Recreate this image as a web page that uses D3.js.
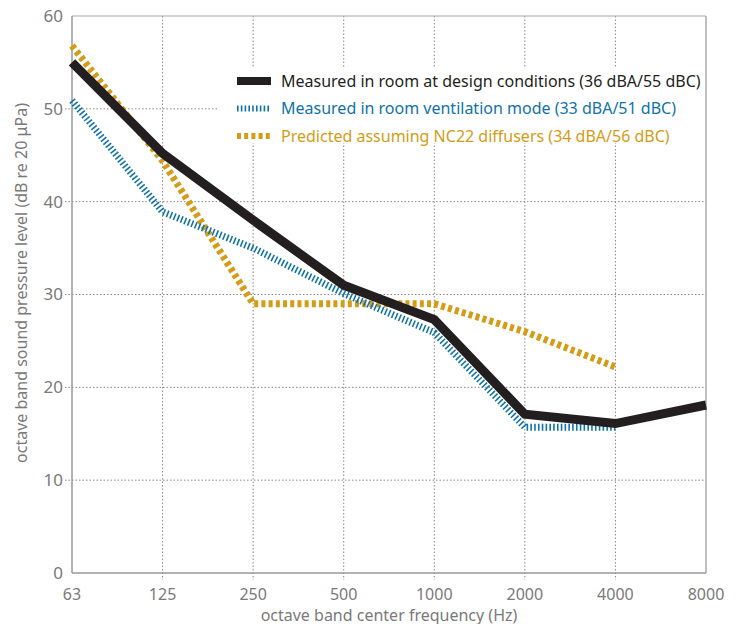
<!doctype html>
<meta charset="utf-8" />
<style>
    body { margin: 0; background: #fff; }
    text { font-family: "Noto Sans", sans-serif; }
</style>
<svg></svg>
<script src="https://cdn.jsdelivr.net/npm/d3@7"></script>
<script>
    var freqs = ['63', '125', '250', '500', '1000', '2000', '4000', '8000']
    var yTicks = [0, 10, 20, 30, 40, 50, 60]

    var designVals = [55, 45.2, 38, 31, 27.3, 17.1, 16.1, 18.1]
    var ventVals = [50.9, 38.9, 35, 30.1, 25.9, 15.7, 15.7]
    var predVals = [56.8, 44.4, 29, 29, 29, 26, 22.2]

    var seriesNames = [
        'Measured in room at design conditions (36 dBA/55 dBC)',
        'Measured in room ventilation mode (33 dBA/51 dBC)',
        'Predicted assuming NC22 diffusers (34 dBA/56 dBC)'
    ]

    var styles = [
        { color: '#231f20', width: 9, dash: null },
        { color: '#1173aa', width: 7, dash: '1.6,2.2' },
        { color: '#d49c17', width: 7, dash: '4,3.2' }
    ]

    var W = 741, H = 624
    var pLeft = 72, pRight = 706, pTop = 16, pBottom = 573

    var svg = d3.select('svg')
        .attr('width', W)
        .attr('height', H)

    var x = d3.scalePoint()
        .domain(freqs)
        .range([pLeft, pRight])

    var y = d3.scaleLinear()
        .domain([0, 60])
        .range([pBottom, pTop])

    var grid = svg.append('g')

    // horizontal dotted grid
    grid.selectAll('.hg')
        .data(yTicks.filter(d => d > 0 && d < 60))
        .enter().append('line')
        .attr('x1', pLeft - 7)
        .attr('x2', pRight)
        .attr('y1', d => y(d))
        .attr('y2', d => y(d))
        .style('stroke', '#888')
        .style('stroke-width', 1)
        .style('stroke-dasharray', '1.5,2')

    // vertical dotted grid
    grid.selectAll('.vg')
        .data(freqs.slice(1, -1))
        .enter().append('line')
        .attr('x1', d => x(d))
        .attr('x2', d => x(d))
        .attr('y1', pTop)
        .attr('y2', pBottom + 7)
        .style('stroke', '#888')
        .style('stroke-width', 1)
        .style('stroke-dasharray', '1.5,2')

    // frame
    svg.append('line')
        .attr('x1', pLeft).attr('x2', pRight).attr('y1', pTop).attr('y2', pTop)
        .style('stroke', '#aaa').style('stroke-width', 1)
    svg.append('line')
        .attr('x1', pRight).attr('x2', pRight).attr('y1', pTop).attr('y2', pBottom)
        .style('stroke', '#aaa').style('stroke-width', 1.5)
    svg.append('line')
        .attr('x1', pLeft).attr('x2', pLeft).attr('y1', pTop).attr('y2', pBottom)
        .style('stroke', '#999').style('stroke-width', 1.5)
    svg.append('line')
        .attr('x1', pLeft).attr('x2', pRight).attr('y1', pBottom).attr('y2', pBottom)
        .style('stroke', '#999').style('stroke-width', 1.5)

    // legend background hides grid
    svg.append('rect')
        .attr('x', 218)
        .attr('y', 67)
        .attr('width', pRight - 219)
        .attr('height', 76)
        .style('fill', 'white')

    // tick labels
    svg.selectAll('.yl')
        .data(yTicks)
        .enter().append('text')
        .attr('x', pLeft - 9)
        .attr('y', d => y(d))
        .attr('dy', '0.35em')
        .attr('text-anchor', 'end')
        .style('font-size', '17px')
        .style('fill', '#7a7a7a')
        .text(d => d)

    svg.selectAll('.xl')
        .data(freqs)
        .enter().append('text')
        .attr('x', d => x(d))
        .attr('y', 600)
        .attr('text-anchor', 'middle')
        .style('font-size', '16px')
        .style('fill', '#7a7a7a')
        .text(d => d)

    svg.append('text')
        .attr('x', 389)
        .attr('y', 621)
        .attr('text-anchor', 'middle')
        .style('font-size', '16px')
        .style('fill', '#7a7a7a')
        .text('octave band center frequency (Hz)')

    svg.append('text')
        .attr('transform', 'translate(27,283) rotate(-90)')
        .attr('text-anchor', 'middle')
        .style('font-size', '16px')
        .style('fill', '#7a7a7a')
        .text('octave band sound pressure level (dB re 20  \u03bcPa)')

    var line = d3.line()
        .x((d, i) => x(freqs[i]))
        .y(d => y(d))

    var allSeries = [designVals, ventVals, predVals]

    // predicted first, then ventilation, design on top
    ;[2, 1, 0].forEach(function (k) {
        svg.append('path')
            .attr('d', line(allSeries[k]))
            .style('fill', 'none')
            .style('stroke', styles[k].color)
            .style('stroke-width', styles[k].width)
            .style('stroke-dasharray', styles[k].dash)
    })

    // legend
    var lg = svg.append('g')
    seriesNames.forEach(function (name, i) {
        var ly = 81 + i * 27.5
        lg.append('line')
            .attr('x1', 237)
            .attr('x2', 271)
            .attr('y1', ly)
            .attr('y2', ly)
            .style('stroke', styles[i].color)
            .style('stroke-width', i === 0 ? 8 : 6)
            .style('stroke-dasharray', styles[i].dash)
        lg.append('text')
            .attr('x', 281)
            .attr('y', ly)
            .attr('dy', '0.35em')
            .style('font-size', '16px')
            .style('fill', styles[i].color)
            .text(name)
    })
</script>
